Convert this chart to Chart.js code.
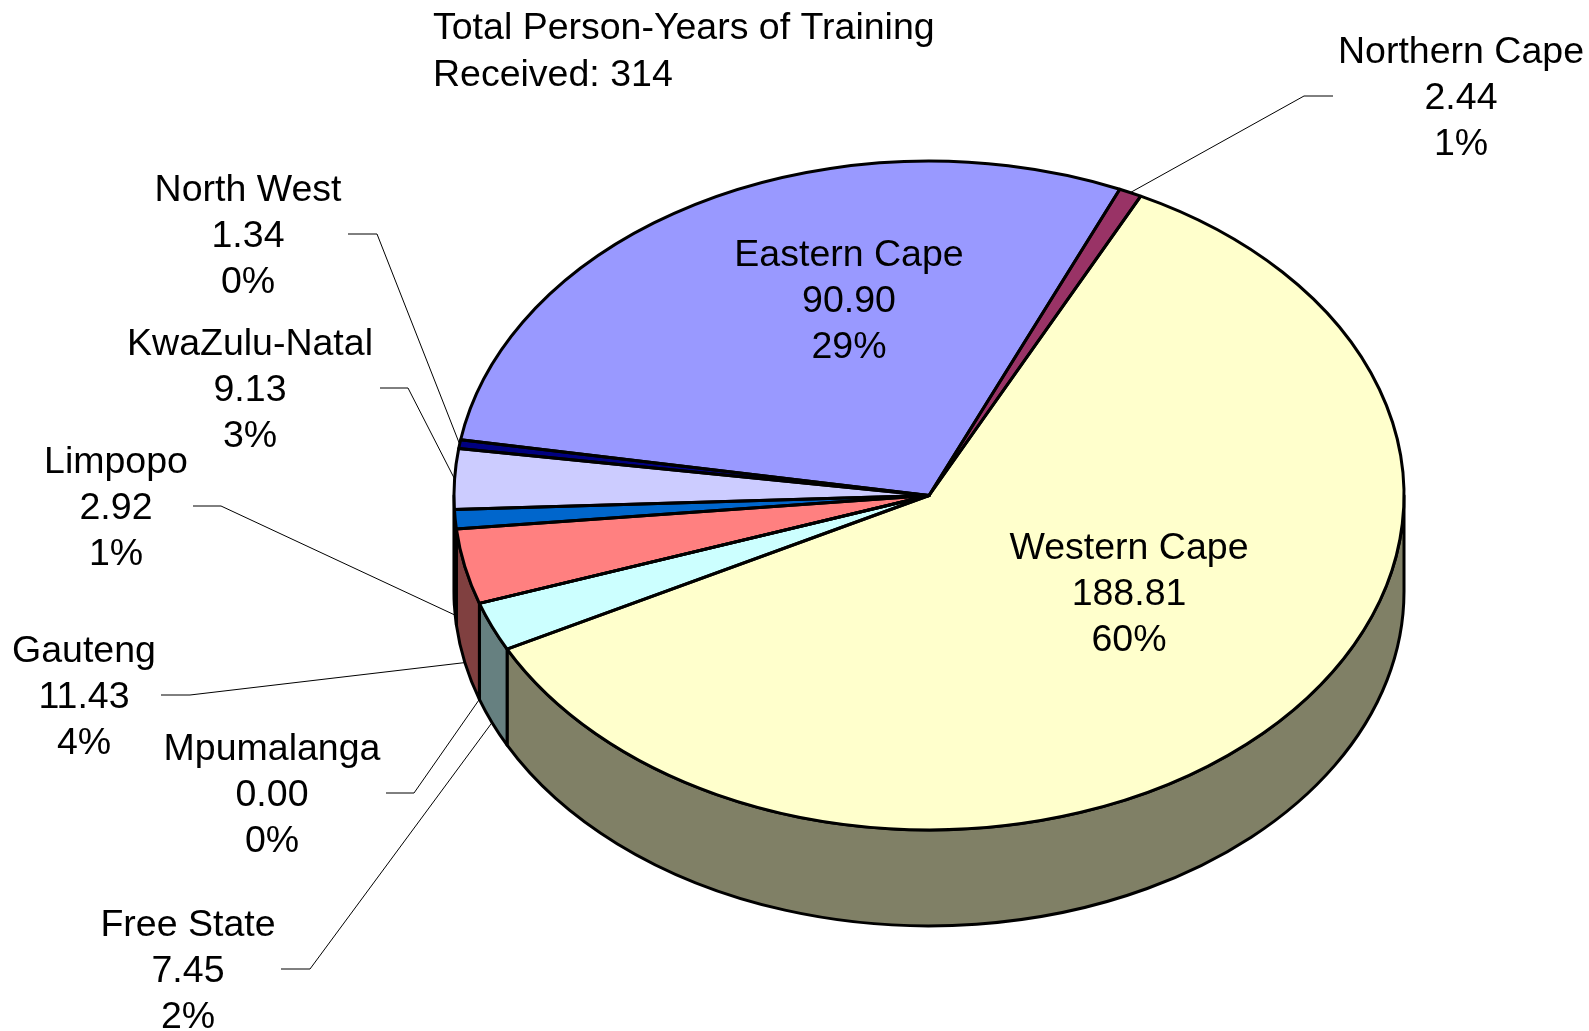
<!DOCTYPE html>
<html>
<head>
<meta charset="utf-8">
<title>Total Person-Years of Training</title>
<script src="https://cdn.jsdelivr.net/npm/chart.js@4.4.0/dist/chart.umd.min.js"></script>
<style>
  html, body { margin: 0; padding: 0; background: #fff; }
  #contenedor { width: 1589px; height: 1031px; }
</style>
</head>
<body>
<div id="contenedor"><canvas id="miGrafico"></canvas></div>
<script>
// Datos del grafico (en el orden en que Excel los dibuja, sentido horario)
const provincias = ['Eastern Cape', 'Northern Cape', 'Western Cape', 'Free State', 'Mpumalanga',
                    'Gauteng', 'Limpopo', 'KwaZulu-Natal', 'North West'];
const personYears = [90.90, 2.44, 188.81, 7.45, 0.00, 11.43, 2.92, 9.13, 1.34];
const colores = ['#9999FF', '#993366', '#FFFFCC', '#CCFFFF', '#660066',
                 '#FF8080', '#0066CC', '#CCCCFF', '#000080'];
const tituloTexto = 'Total Person-Years of Training';
const tituloSub = 'Received: ';

// Aspecto 3D (estilo, no datos)
const INCLINACION = 0.704;   // ry / rx
const PROFUNDIDAD = 96;      // alto del lateral
const FUENTE = '37.5px "Liberation Sans", Arial, sans-serif';
const INTERLINEA = 46;
const AJUSTE_Y = 3;          // baja un poco el texto respecto a 'middle'

// Posicion de cada etiqueta: centro del texto (linea del medio) y tramo horizontal de la guia
const etiquetas = [
    { x: 849, y: 299 },
    { x: 1461, y: 96, guia: [1333, 1304] },
    { x: 1129, y: 592 },
    { x: 188, y: 969, guia: [281, 310] },
    { x: 272, y: 793, guia: [386, 414] },
    { x: 84, y: 695, guia: [161, 190] },
    { x: 116, y: 506, guia: [193, 221] },
    { x: 250, y: 388, guia: [380, 408] },
    { x: 248, y: 234, guia: [348, 377] }
];

function oscurecer(hex) {
    const n = parseInt(hex.slice(1), 16);
    const r = Math.round(((n >> 16) & 255) / 2);
    const g = Math.round(((n >> 8) & 255) / 2);
    const b = Math.round((n & 255) / 2);
    return `rgb(${r},${g},${b})`;
}

// Partes del arco que quedan en la mitad delantera (angulos 0..PI)
function tramosVisibles(a, b) {
    const tramos = [];
    for (let k = -1; k <= 1; k++) {
        const lo = Math.max(a, k * 2 * Math.PI);
        const hi = Math.min(b, k * 2 * Math.PI + Math.PI);
        if (hi > lo) tramos.push([lo, hi]);
    }
    return tramos;
}

const pastel3D = {
    id: 'pastel3D',
    beforeDatasetsDraw(chart) {
        const ctx = chart.ctx;
        const arcos = chart.getDatasetMeta(0).data;
        const cx = arcos[0].x, cy = arcos[0].y;
        const rx = arcos[0].outerRadius, ry = rx * INCLINACION;

        // Laterales de las porciones delanteras
        ctx.save();
        ctx.lineWidth = 3;
        ctx.strokeStyle = '#000';
        ctx.lineJoin = 'round';
        arcos.forEach((arco, i) => {
            tramosVisibles(arco.startAngle, arco.endAngle).forEach(([a, b]) => {
                ctx.beginPath();
                ctx.ellipse(cx, cy, rx, ry, 0, a, b);
                ctx.ellipse(cx, cy + PROFUNDIDAD, rx, ry, 0, b, a, true);
                ctx.closePath();
                ctx.fillStyle = oscurecer(colores[i]);
                ctx.fill();
                ctx.stroke();
            });
        });
        ctx.restore();

        // Aplasta verticalmente la tapa que dibuja Chart.js
        ctx.save();
        ctx.translate(cx, cy);
        ctx.scale(1, INCLINACION);
        ctx.translate(-cx, -cy);
    },
    afterDatasetsDraw(chart) {
        const ctx = chart.ctx;
        ctx.restore();

        const arcos = chart.getDatasetMeta(0).data;
        const cx = arcos[0].x, cy = arcos[0].y;
        const rx = arcos[0].outerRadius, ry = rx * INCLINACION;

        // Bordes de la tapa con grosor uniforme
        ctx.save();
        ctx.lineWidth = 3;
        ctx.strokeStyle = '#000';
        ctx.lineJoin = 'round';
        arcos.forEach(arco => {
            ctx.beginPath();
            ctx.moveTo(cx, cy);
            ctx.ellipse(cx, cy, rx, ry, 0, arco.startAngle, arco.endAngle);
            ctx.closePath();
            ctx.stroke();
        });
        ctx.restore();
    },
    afterDraw(chart) {
        const ctx = chart.ctx;
        const arcos = chart.getDatasetMeta(0).data;
        const cx = arcos[0].x, cy = arcos[0].y;
        const rx = arcos[0].outerRadius, ry = rx * INCLINACION;
        const total = personYears.reduce((s, v) => s + v, 0);

        ctx.save();
        ctx.font = FUENTE;
        ctx.fillStyle = '#000';
        ctx.textBaseline = 'middle';

        // Titulo
        ctx.textAlign = 'left';
        ctx.fillText(tituloTexto, 433, 26 + AJUSTE_Y);
        ctx.fillText(tituloSub + Math.round(total), 433, 73 + AJUSTE_Y);

        // Etiquetas con guias
        ctx.textAlign = 'center';
        arcos.forEach((arco, i) => {
            const et = etiquetas[i];
            const lineas = [
                provincias[i],
                personYears[i].toFixed(2),
                Math.round(personYears[i] / total * 100) + '%'
            ];
            lineas.forEach((t, j) => {
                ctx.fillText(t, et.x, et.y + (j - 1) * INTERLINEA + AJUSTE_Y);
            });

            if (et.guia) {
                const medio = (arco.startAngle + arco.endAngle) / 2;
                let px = cx + rx * Math.cos(medio);
                let py = cy + ry * Math.sin(medio);
                if (Math.sin(medio) > 0) py += PROFUNDIDAD;
                ctx.beginPath();
                ctx.lineWidth = 1;
                ctx.strokeStyle = '#000';
                ctx.moveTo(et.guia[0], et.y);
                ctx.lineTo(et.guia[1], et.y);
                ctx.lineTo(px, py);
                ctx.stroke();
            }
        });
        ctx.restore();
    }
};

const ctx = document.getElementById('miGrafico').getContext('2d');

const miGrafico = new Chart(ctx, {
    type: 'pie',
    data: {
        labels: provincias,
        datasets: [{
            data: personYears,
            backgroundColor: colores,
            borderWidth: 0,
            radius: 475,
            clip: false
        }]
    },
    options: {
        responsive: true,
        maintainAspectRatio: false,
        animation: false,
        events: [],
        rotation: -80.4,
        layout: { padding: { left: 269, right: 0, top: 0, bottom: 40 } },
        plugins: {
            legend: { display: false },
            tooltip: { enabled: false },
            title: { display: false }
        }
    },
    plugins: [pastel3D]
});
</script>
</body>
</html>
